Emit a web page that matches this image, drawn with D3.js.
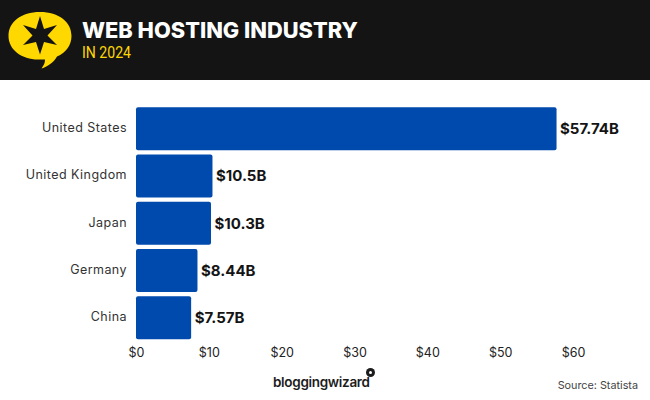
<!DOCTYPE html>
<html>
<head>
<meta charset="utf-8">
<script src="https://cdn.jsdelivr.net/npm/d3@7"></script>
<style>
  html, body { margin: 0; padding: 0; background: #fff; }
  svg { display: block; }
  text { font-family: Inter, "Open Sans", sans-serif; }
</style>
</head>
<body>
<svg id="chart" width="650" height="400"></svg>
<script>
var countries = ['United States', 'United Kingdom', 'Japan', 'Germany', 'China'];
var revenue = [57.74, 10.5, 10.3, 8.44, 7.57];
var valueLabels = ['$57.74B', '$10.5B', '$10.3B', '$8.44B', '$7.57B'];
var xTicks = [0, 10, 20, 30, 40, 50, 60];

var svg = d3.select('#chart');

// header band
svg.append('rect').attr('width', 650).attr('height', 80).attr('fill', '#141414');

// speech bubble logo
var logo = svg.append('g');
logo.append('path')
  .attr('d', 'M40 12C21 12 8.500 22 8.500 36C8.500 50 22 59.500 38 59.500C41 59.500 43 59.500 45 59.500C45 63 44 65 41.500 68.500C48 66.500 54 62 57 56.500C66 53 71.500 45 71.500 36C71.500 22 59 12 40 12Z')
  .attr('fill', '#ffd800');
logo.append('path')
  .attr('d', 'M40 16L44 29L57 25L47.500 35.500L57 45L44 42L40 54.500L36 42L23 45L32.500 35.500L23 25L36 29Z')
  .attr('fill', '#141414');

svg.append('text')
  .attr('x', 82).attr('y', 38)
  .attr('fill', '#fff')
  .attr('font-size', 21.800).attr('font-weight', 800)
  .text('WEB HOSTING INDUSTRY');

svg.append('text')
  .attr('x', 82).attr('y', 58)
  .attr('fill', '#ffd800')
  .attr('font-size', 17)
  .attr('textLength', 49)
  .attr('lengthAdjust', 'spacingAndGlyphs')
  .style('font-family', 'Roboto')
  .text('IN 2024');

// scales
var x = d3.scaleLinear().domain([0, 60]).range([136, 573]);
var y = d3.scaleBand().domain(countries).range([105.500, 341]).paddingInner(0.09).paddingOuter(0.035);

// bars
svg.selectAll('.bar')
  .data(countries)
  .enter().append('rect')
  .attr('class', 'bar')
  .attr('x', x(0))
  .attr('y', function(d) { return y(d); })
  .attr('width', function(d, i) { return x(revenue[i]) - x(0); })
  .attr('height', y.bandwidth())
  .attr('rx', 2)
  .attr('fill', '#004aad');

// value labels
svg.selectAll('.value')
  .data(countries)
  .enter().append('text')
  .attr('class', 'value')
  .attr('x', function(d, i) { return x(revenue[i]) + 3.500; })
  .attr('y', function(d) { return y(d) + y.bandwidth() / 2 + 5.500; })
  .attr('fill', '#141414')
  .attr('font-size', 15).attr('font-weight', 700)
  .text(function(d, i) { return valueLabels[i]; });

// y axis
var yAxis = svg.append('g')
  .attr('transform', 'translate(' + x(0) + ',0)')
  .call(d3.axisLeft(y).tickSize(0).tickPadding(9));
yAxis.select('.domain').remove();
yAxis.selectAll('text')
  .attr('fill', '#333')
  .attr('font-size', 12.500)
  .attr('letter-spacing', 0.45)
  .attr('dy', '0.28em')
  .style('font-family', 'Inter');

// x axis
var xAxis = svg.append('g')
  .attr('transform', 'translate(0,341)')
  .call(d3.axisBottom(x).tickValues(xTicks).tickSize(0).tickPadding(7).tickFormat(function(d) { return '$' + d; }));
xAxis.select('.domain').remove();
xAxis.selectAll('text')
  .attr('fill', '#222')
  .attr('font-size', 12.500)
  .style('font-family', 'Inter');

// footer
svg.append('text')
  .attr('x', 273).attr('y', 387)
  .attr('fill', '#1c1c1c')
  .attr('font-size', 13.500).attr('font-weight', 600)
  .attr('textLength', 97)
  .text('bloggingwizard');
svg.append('circle').attr('cx', 370.500).attr('cy', 372.500).attr('r', 4.500).attr('fill', '#1c1c1c');
svg.append('circle').attr('cx', 370.500).attr('cy', 372.500).attr('r', 1.500).attr('fill', '#fff');

svg.append('text')
  .attr('x', 638).attr('y', 388.500)
  .attr('text-anchor', 'end')
  .attr('fill', '#444')
  .attr('font-size', 10.800)
  .text('Source: Statista');
</script>
</body>
</html>
